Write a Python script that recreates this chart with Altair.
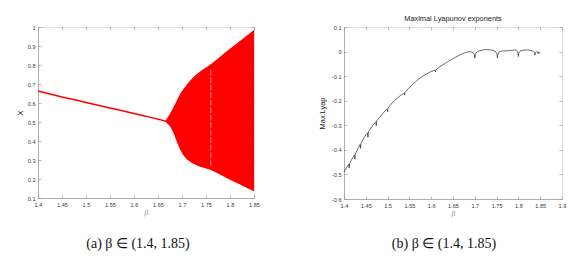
import altair as alt
import pandas as pd

# ---------------- Panel (a): bifurcation diagram ----------------
fp_beta = [1.400, 1.450, 1.500, 1.550, 1.600, 1.630, 1.650, 1.660, 1.666]
fp_x    = [0.663, 0.632, 0.603, 0.574, 0.545, 0.527, 0.515, 0.508, 0.504]

band_beta  = [1.665, 1.668, 1.671, 1.674, 1.677, 1.682, 1.688, 1.693, 1.698, 1.705,
              1.712, 1.719, 1.730, 1.740, 1.750, 1.760, 1.780, 1.800, 1.820, 1.840, 1.850]
band_upper = [0.506, 0.515, 0.528, 0.540, 0.553, 0.578, 0.607, 0.632, 0.655, 0.680,
              0.703, 0.724, 0.750, 0.770, 0.787, 0.804, 0.845, 0.885, 0.925, 0.965, 0.985]
band_lower = [0.502, 0.495, 0.488, 0.480, 0.469, 0.445, 0.405, 0.372, 0.345, 0.318,
              0.300, 0.287, 0.273, 0.263, 0.255, 0.247, 0.222, 0.196, 0.172, 0.147, 0.135]

gap_beta = [1.760]
gap_lo   = [0.270]
gap_hi   = [0.780]

# ---------------- Panel (b): maximal Lyapunov exponent ----------------
ly_beta = [1.400, 1.404, 1.408, 1.411, 1.412, 1.413,
           1.417, 1.421, 1.424, 1.425, 1.426,
           1.430, 1.434, 1.437, 1.438, 1.439,
           1.443, 1.448, 1.452, 1.454, 1.455, 1.456,
           1.461, 1.467, 1.473, 1.474, 1.475,
           1.480, 1.487, 1.494, 1.499, 1.500, 1.501,
           1.507, 1.515, 1.523, 1.531, 1.538, 1.539, 1.540,
           1.548, 1.557, 1.567, 1.578, 1.589, 1.600, 1.609, 1.610, 1.611,
           1.620, 1.630, 1.640, 1.650, 1.660, 1.670, 1.680, 1.690, 1.696, 1.699, 1.700, 1.701, 1.704,
           1.710, 1.720, 1.730, 1.740, 1.747, 1.751, 1.752, 1.753, 1.757,
           1.765, 1.775, 1.785, 1.792, 1.797, 1.799, 1.800, 1.801, 1.804,
           1.812, 1.820, 1.828, 1.834, 1.837, 1.838, 1.839, 1.842,
           1.844, 1.845, 1.846, 1.847, 1.848, 1.849]
ly_val = [-0.490, -0.478, -0.466, -0.458, -0.474, -0.455,
          -0.441, -0.429, -0.421, -0.438, -0.417,
          -0.402, -0.388, -0.378, -0.394, -0.373,
          -0.360, -0.345, -0.335, -0.331, -0.349, -0.326,
          -0.313, -0.298, -0.287, -0.302, -0.282,
          -0.271, -0.256, -0.242, -0.234, -0.245, -0.230,
          -0.216, -0.201, -0.188, -0.177, -0.169, -0.177, -0.166,
          -0.150, -0.134, -0.118, -0.103, -0.091, -0.081, -0.076, -0.083, -0.074,
          -0.062, -0.050, -0.039, -0.029, -0.019, -0.010, -0.003, 0.000, -0.004, -0.012, -0.027, -0.012, -0.003,
          0.003, 0.007, 0.008, 0.006, 0.001, -0.010, -0.026, -0.010, 0.000,
          0.003, 0.003, 0.005, 0.007, 0.002, -0.006, -0.020, -0.006, 0.002,
          0.006, 0.007, 0.005, 0.001, -0.005, -0.014, -0.005, 0.000,
          -0.003, -0.008, -0.002, -0.001, -0.007, -0.003]

xticks_a = [1.4, 1.45, 1.5, 1.55, 1.6, 1.65, 1.7, 1.75, 1.8, 1.85]
yticks_a = [0.1, 0.2, 0.3, 0.4, 0.5, 0.6, 0.7, 0.8, 0.9, 1.0]
xticks_b = [1.4, 1.45, 1.5, 1.55, 1.6, 1.65, 1.7, 1.75, 1.8, 1.85, 1.9]
yticks_b = [-0.6, -0.5, -0.4, -0.3, -0.2, -0.1, 0.0, 0.1]

caption_a = "(a) β ∈ (1.4, 1.85)"
caption_b = "(b) β ∈ (1.4, 1.85)"
title_b = "Maximal Lyapunov exponents"

W_A, H_A = 216, 171
W_B, H_B = 218, 172

AX_COL = "#8f8f8f"
LAB_COL = "#3a3a3a"
LBL_EXPR = "replace(format(datum.value, '.2~f'), '\u2212', '-')"


def x_axis(values, h):
    return alt.Axis(values=values, labelExpr=LBL_EXPR, title="β", titleFontStyle="italic",
                    titleColor="#9a9a9a", titleFontSize=7, titleFontWeight="normal",
                    titlePadding=1, labelPadding=4, ticks=False, grid=True,
                    gridDash=[3, h - 6], gridColor=AX_COL, gridWidth=0.6,
                    domainColor=AX_COL, domainWidth=0.6, labelFontSize=5.6,
                    labelColor=LAB_COL, labelFont="Liberation Sans", titleFont="DejaVu Serif",
                    labelOverlap=False, labelBound=False, labelFlush=False)


def y_axis(values, w, title, ext, tpad):
    return alt.Axis(values=values, labelExpr=LBL_EXPR, title=title, titleFontSize=7.4,
                    titleFontWeight="normal", titleColor="#222", titleFont="Liberation Sans",
                    titlePadding=tpad, labelPadding=3, ticks=False, grid=True,
                    gridDash=[3, w - 6], gridColor=AX_COL, gridWidth=0.6,
                    domainColor=AX_COL, domainWidth=0.6, labelFontSize=5.6,
                    labelColor=LAB_COL, labelFont="Liberation Sans",
                    labelOverlap=False, labelBound=False, labelFlush=False,
                    minExtent=ext, maxExtent=ext)


xs_a = alt.Scale(domain=[1.4, 1.85], nice=False, zero=False)
ys_a = alt.Scale(domain=[0.1, 1.0], nice=False, zero=False)
xax_a = x_axis(xticks_a, H_A)
yax_a = y_axis(yticks_a, W_A, "X", 12, 2)

df_fp = pd.DataFrame({"beta": fp_beta, "x": fp_x})
df_band = pd.DataFrame({"beta": band_beta, "hi": band_upper, "lo": band_lower})
df_gap = pd.DataFrame({"beta": gap_beta, "lo": gap_lo, "hi": gap_hi})
df_cap_a = pd.DataFrame({"t": [caption_a]})
df_cap_b = pd.DataFrame({"t": [caption_b]})

band_a = alt.Chart(df_band).mark_area(color="#ff0000", opacity=1, interpolate="monotone").encode(
    x=alt.X("beta:Q", scale=xs_a, axis=xax_a),
    y=alt.Y("hi:Q", scale=ys_a, axis=yax_a),
    y2="lo:Q",
)
line_a = alt.Chart(df_fp).mark_line(color="#ff0000", strokeWidth=1.5, interpolate="monotone").encode(
    x=alt.X("beta:Q", scale=xs_a, axis=xax_a),
    y=alt.Y("x:Q", scale=ys_a, axis=yax_a),
)
gap_a = alt.Chart(df_gap).mark_rule(color="#ffb0b0", strokeWidth=0.8, strokeDash=[6, 1.5]).encode(
    x=alt.X("beta:Q", scale=xs_a, axis=xax_a),
    y=alt.Y("lo:Q", scale=ys_a, axis=yax_a),
    y2="hi:Q",
)
cap_a = alt.Chart(df_cap_a).mark_text(font="Liberation Serif", fontSize=14, color="#111",
                                      align="center", baseline="alphabetic").encode(
    text="t:N", x=alt.value(100), y=alt.value(221))

panel_a = alt.layer(band_a, line_a, gap_a, cap_a).properties(width=W_A, height=H_A)

xs_b = alt.Scale(domain=[1.4, 1.9], nice=False, zero=False)
ys_b = alt.Scale(domain=[-0.6, 0.1], nice=False, zero=False)
df_ly = pd.DataFrame({"beta": ly_beta, "v": ly_val})

line_b = alt.Chart(df_ly).mark_line(color="#2b2b2b", strokeWidth=0.7).encode(
    x=alt.X("beta:Q", scale=xs_b, axis=x_axis(xticks_b, H_B)),
    y=alt.Y("v:Q", scale=ys_b, axis=y_axis(yticks_b, W_B, "Max.Lyap", 13, 5)),
)
cap_b = alt.Chart(df_cap_b).mark_text(font="Liberation Serif", fontSize=14, color="#111",
                                      align="center", baseline="alphabetic").encode(
    text="t:N", x=alt.value(100), y=alt.value(221))

panel_b = alt.layer(line_b, cap_b).properties(
    width=W_B, height=H_B,
    title=alt.Title(title_b, fontSize=7.4, fontWeight="normal", font="Liberation Sans",
                    color="#222", offset=3),
)

chart = alt.hconcat(panel_a, panel_b, spacing=57).properties(
    padding={"left": 7, "top": 6, "right": 0, "bottom": 0}
).configure_view(stroke=AX_COL, strokeWidth=0.6).configure(background="white")

chart.save("out.html", embed_options={"renderer": "svg", "actions": False})
